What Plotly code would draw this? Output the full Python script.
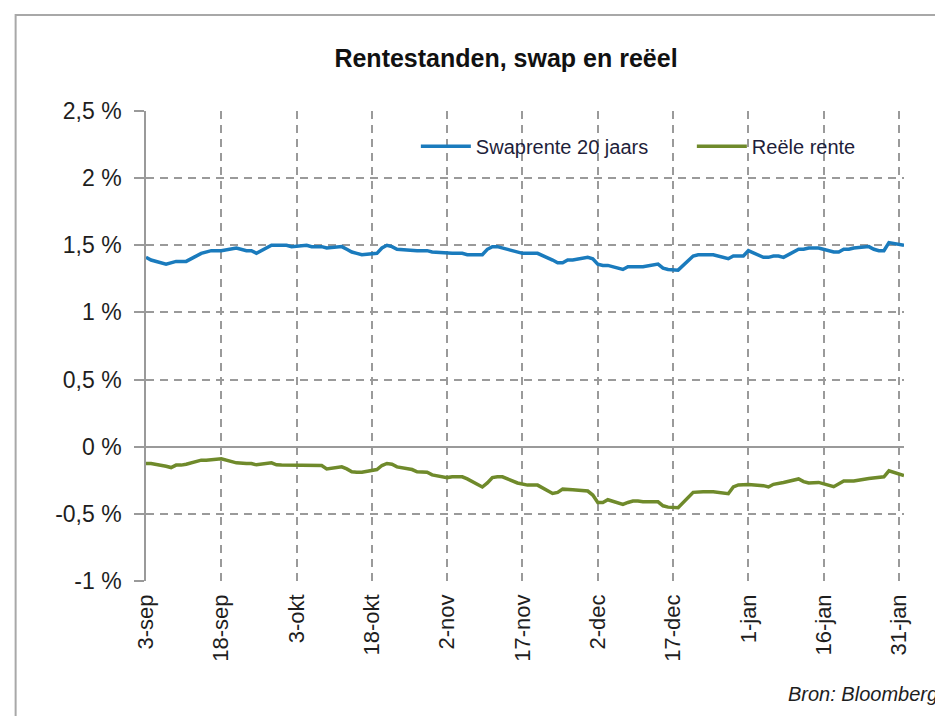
import plotly.graph_objects as go
import pandas as pd

# trading days, 3 sep 2015 .. 1 feb 2016
DATES = pd.bdate_range("2015-09-03", "2016-02-01")

SWAP_20Y = [
    # sep
    1.41, 1.39, 1.36, 1.37, 1.38, 1.38, 1.38, 1.44, 1.45, 1.46,
    1.46, 1.46, 1.48, 1.47, 1.46, 1.46, 1.44, 1.50, 1.50, 1.50,
    # okt
    1.50, 1.49, 1.50, 1.49, 1.49, 1.49, 1.48, 1.49, 1.47, 1.45, 1.44,
    1.43, 1.44, 1.48, 1.50, 1.49, 1.47, 1.46, 1.46, 1.46, 1.46, 1.45,
    # nov
    1.44, 1.44, 1.44, 1.44, 1.43, 1.43, 1.47, 1.49, 1.49, 1.48, 1.45,
    1.44, 1.44, 1.44, 1.44, 1.39, 1.37, 1.37, 1.39, 1.39, 1.41,
    # dec
    1.40, 1.36, 1.35, 1.35, 1.32, 1.34, 1.34, 1.34, 1.34, 1.36, 1.33, 1.32,
    1.315, 1.315, 1.42, 1.43, 1.43, 1.43, 1.43, 1.40, 1.42, 1.42, 1.42,
    # jan
    1.46, 1.41, 1.41, 1.42, 1.42, 1.41, 1.47, 1.47, 1.48, 1.48, 1.48,
    1.45, 1.45, 1.47, 1.47, 1.48, 1.49, 1.47, 1.46, 1.46, 1.52,
    # feb
    1.50,
]

REELE_RENTE = [
    # sep
    -0.125, -0.125, -0.145, -0.155, -0.137, -0.137, -0.13, -0.10, -0.10, -0.095,
    -0.095, -0.09, -0.12, -0.125, -0.125, -0.125, -0.135, -0.12, -0.135, -0.137,
    # okt
    -0.137, -0.137, -0.137, -0.14, -0.14, -0.14, -0.165, -0.15, -0.165, -0.187, -0.19,
    -0.19, -0.17, -0.14, -0.125, -0.13, -0.15, -0.17, -0.187, -0.187, -0.19, -0.21,
    # nov
    -0.23, -0.224, -0.224, -0.224, -0.24, -0.30, -0.27, -0.23, -0.224, -0.224, -0.27,
    -0.28, -0.286, -0.286, -0.286, -0.348, -0.34, -0.316, -0.316, -0.32, -0.33,
    # dec
    -0.36, -0.415, -0.415, -0.395, -0.43, -0.415, -0.405, -0.405, -0.41, -0.41, -0.44, -0.45,
    -0.45, -0.455, -0.34, -0.336, -0.336, -0.336, -0.336, -0.35, -0.30, -0.285, -0.281,
    # jan
    -0.281, -0.29, -0.30, -0.28, -0.27, -0.266, -0.24, -0.26, -0.27, -0.266, -0.266,
    -0.298, -0.28, -0.256, -0.256, -0.256, -0.236, -0.23, -0.224, -0.224, -0.18,
    # feb
    -0.215,
]

X_TICK_DATES = ["2015-09-03", "2015-09-18", "2015-10-03", "2015-10-18", "2015-11-02",
                "2015-11-17", "2015-12-02", "2015-12-17", "2016-01-01", "2016-01-16",
                "2016-01-31"]
X_TICK_LABELS = ["3-sep", "18-sep", "3-okt", "18-okt", "2-nov", "17-nov", "2-dec",
                 "17-dec", "1-jan", "16-jan", "31-jan"]

Y_TICKS = [-1, -0.5, 0, 0.5, 1, 1.5, 2, 2.5]
Y_TICK_LABELS = ["-1 %", "-0,5 %", "0 %", "0,5 %", "1 %", "1,5 %", "2 %", "2,5 %"]

FONT = "Liberation Sans, Arial, sans-serif"
GRID = "#9a9a9a"

fig = go.Figure()

fig.add_trace(go.Scatter(
    x=DATES, y=SWAP_20Y,
    mode='lines',
    line=dict(color='#1a7bbd', width=3.5),
    name='Swaprente 20 jaars'
))

fig.add_trace(go.Scatter(
    x=DATES, y=REELE_RENTE,
    mode='lines',
    line=dict(color='#6f8a2b', width=3.5),
    name='Reële rente'
))

# outer chart frame (only top and left show in the crop)
fig.add_shape(type='rect', xref='paper', yref='paper',
              x0=-0.172, x1=1.2, y0=-0.5, y1=1.204,
              line=dict(color='#a8a8a8', width=2), layer='below')

fig.add_annotation(
    text='Bron: Bloomberg', xref='paper', yref='paper',
    x=0.844, y=-0.24, xanchor='left', yanchor='middle', showarrow=False,
    font=dict(family=FONT, size=20, color='#1e1e1e', style='italic')
)

fig.update_layout(
    width=943, height=716,
    margin=dict(l=138, r=47, t=103, b=143, autoexpand=False),
    paper_bgcolor='white', plot_bgcolor='white',
    font=dict(family=FONT, color='#1e1e1e'),
    title=dict(
        text='<b>Rentestanden, swap en reëel</b>',
        x=498 / 943, xref='container', xanchor='center',
        y=1 - 50 / 716, yref='container', yanchor='middle',
        font=dict(family=FONT, size=25, color='#111')
    ),
    legend=dict(
        orientation='h', x=0.356, y=0.925, xanchor='left', yanchor='middle',
        bgcolor='rgba(0,0,0,0)', font=dict(size=20, color='#1e1e3a'),
        itemwidth=50, entrywidth=211
    ),
    showlegend=True
)

fig.update_xaxes(
    type='date', range=['2015-09-03', '2016-02-01'],
    tickvals=X_TICK_DATES, ticktext=X_TICK_LABELS, tickangle=-90,
    tickfont=dict(size=22), ticks='', ticklabelstandoff=8,
    showgrid=True, gridcolor=GRID, gridwidth=1.5, griddash='8px,6px',
    showline=False, zeroline=False
)

fig.update_yaxes(
    range=[-1, 2.5], tickvals=Y_TICKS, ticktext=Y_TICK_LABELS,
    tickfont=dict(size=23), ticks='outside', ticklen=10, tickcolor=GRID, tickwidth=1.5,
    ticklabelstandoff=8,
    showgrid=True, gridcolor=GRID, gridwidth=1.5, griddash='8px,6px',
    zeroline=True, zerolinecolor=GRID, zerolinewidth=1.5,
    showline=True, linecolor=GRID, linewidth=1.5
)

fig.write_html("out.html")
